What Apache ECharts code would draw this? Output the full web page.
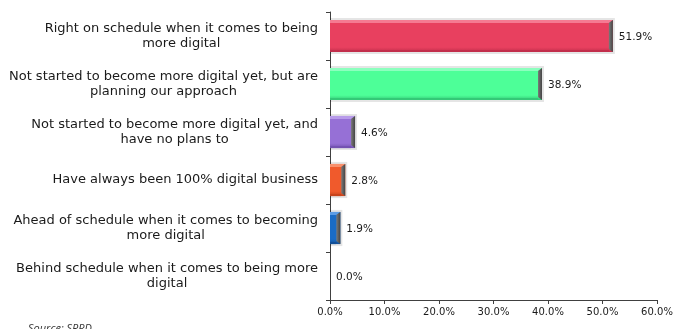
<!DOCTYPE html>
<html>
<head>
<meta charset="utf-8">
<script src="https://cdn.jsdelivr.net/npm/echarts@6/dist/echarts.min.js"></script>
<style>
  html, body { margin: 0; padding: 0; background: #fff; }
  #chart { width: 678px; height: 329px; }
</style>
</head>
<body>
<div id="chart"></div>
<script>
// Survey answers, top to bottom
const categories = [
  'Right on schedule when it comes to being\nmore digital',
  'Not started to become more digital yet, but are\nplanning our approach',
  'Not started to become more digital yet, and\nhave no plans to',
  'Have always been 100% digital business',
  'Ahead of schedule when it comes to becoming\nmore digital',
  'Behind schedule when it comes to being more\ndigital'
];
const values = [51.9, 38.9, 4.6, 2.8, 1.9, 0.0];
const axisMax = 60;
const axisStep = 10;

// Fill, highlight and shade per bar
const barFill  = ['#E8405F', '#4DFF98', '#9670D6', '#F05A2C', '#1A6CC6', '#999999'];
const barLight = ['#F57A92', '#8CFFBE', '#B89BEA', '#F8906C', '#5C9CE4', '#BBBBBB'];
const barDark  = ['#C22E4B', '#33C977', '#7452B2', '#C8441C', '#124F96', '#777777'];

const chart = echarts.init(document.getElementById('chart'));

function renderBar(params, api) {
  const idx = api.value(1);
  const val = api.value(0);
  const p0 = api.coord([0, idx]);
  const p1 = api.coord([val, idx]);
  const h = api.size([0, 1])[1] * 0.67;
  const x0 = p0[0], x1 = p1[0], yc = p0[1];
  const y0 = yc - h / 2;
  const w = x1 - x0;
  const children = [];
  if (w > 0.5) {
    const e = Math.min(4, w / 2);
    children.push({
      type: 'rect',
      shape: { x: x0, y: y0 - 2, width: w + 2, height: h + 4 },
      style: { fill: 'rgba(0,0,0,0.10)' }
    });
    children.push({
      type: 'rect',
      shape: { x: x0, y: y0, width: w, height: h },
      style: {
        fill: new echarts.graphic.LinearGradient(0, 0, 0, 1, [
          { offset: 0, color: barFill[idx] },
          { offset: 0.85, color: barFill[idx] },
          { offset: 1, color: barDark[idx] }
        ])
      }
    });
    children.push({
      type: 'polygon',
      shape: { points: [[x0, y0], [x1, y0], [x1 - e, y0 + 3], [x0, y0 + 3]] },
      style: { fill: barLight[idx] }
    });
    children.push({
      type: 'polygon',
      shape: { points: [[x1 - e, y0 + 3], [x1, y0], [x1, y0 + h], [x1 - e, y0 + h - 3]] },
      style: {
        fill: new echarts.graphic.LinearGradient(0, 0, 1, 0, [
          { offset: 0, color: '#7a7a7a' },
          { offset: 1, color: '#444444' }
        ])
      }
    });
    children.push({
      type: 'rect',
      shape: { x: x0, y: y0 + h - 2, width: w - e, height: 2 },
      style: { fill: barDark[idx] }
    });
  }
  children.push({
    type: 'text',
    style: {
      x: x1 + 6,
      y: yc + 1,
      text: val.toFixed(1) + '%',
      align: 'left',
      verticalAlign: 'middle',
      fill: '#1a1a1a',
      font: '10.5px "DejaVu Sans"'
    }
  });
  return { type: 'group', children: children };
}

chart.setOption({
  animation: false,
  backgroundColor: '#ffffff',
  grid: { left: 330, right: 21, top: 12, bottom: 29, containLabel: false },
  xAxis: {
    type: 'value',
    min: 0,
    max: axisMax,
    interval: axisStep,
    splitLine: { show: false },
    axisLine: { show: true, lineStyle: { color: '#404040', width: 1 } },
    axisTick: { show: true, length: 4, lineStyle: { color: '#404040' } },
    axisLabel: {
      margin: 7,
      color: '#1a1a1a',
      fontFamily: 'DejaVu Sans',
      fontSize: 10,
      formatter: v => v.toFixed(1) + '%'
    }
  },
  yAxis: {
    type: 'category',
    data: categories,
    inverse: true,
    axisLine: { show: true, lineStyle: { color: '#404040', width: 1 } },
    axisTick: { show: true, length: 4, lineStyle: { color: '#404040' } },
    axisLabel: {
      margin: 12,
      align: 'right',
      lineHeight: 15,
      formatter: v => v.split('\n').map(s => '{c|' + s + '}').join('\n'),
      rich: {
        c: {
          align: 'center',
          color: '#1a1a1a',
          fontFamily: 'DejaVu Sans',
          fontSize: 13,
          lineHeight: 15
        }
      }
    }
  },
  series: [{
    type: 'custom',
    renderItem: renderBar,
    encode: { x: 0, y: 1 },
    data: values.map((v, i) => [v, i])
  }],
  graphic: [{
    type: 'text',
    left: 28,
    top: 323,
    style: {
      text: 'Source: SPRD',
      fill: '#333',
      font: 'italic 11px "Open Sans"'
    }
  }]
});
</script>
</body>
</html>
